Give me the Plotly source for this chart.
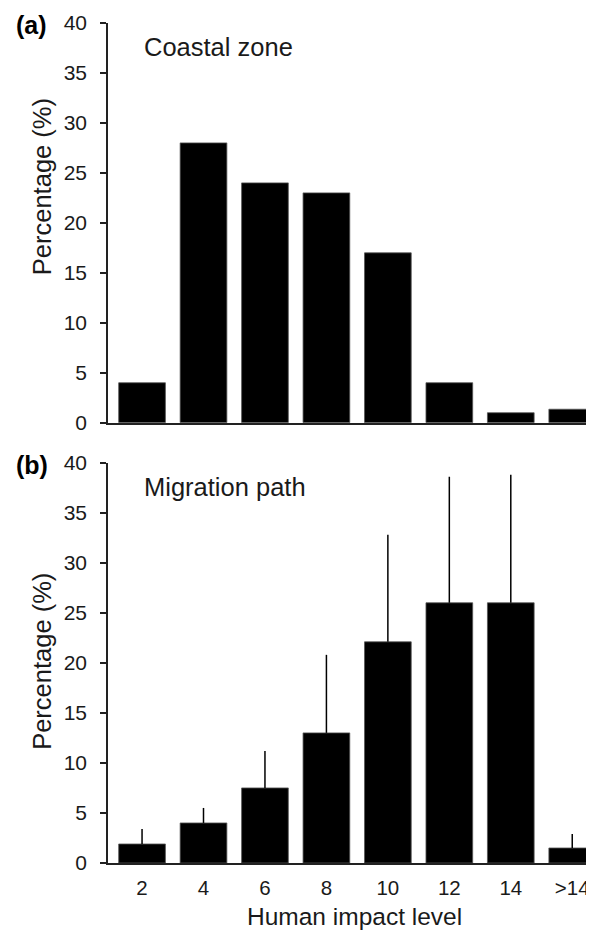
import plotly.graph_objects as go

categories = ["2", "4", "6", "8", "10", "12", "14", ">14"]
coastal_values = [4.0, 28.0, 24.0, 23.0, 17.0, 4.0, 1.0, 1.35]
migration_values = [1.9, 4.0, 7.5, 13.0, 22.1, 26.0, 26.0, 1.5]
migration_upper = [3.4, 5.5, 11.2, 20.8, 32.8, 38.6, 38.8, 2.9]

y_ticks = [0, 5, 10, 15, 20, 25, 30, 35, 40]

FONT = "Arial, Liberation Sans, sans-serif"
TXT = "#1a1a1a"

err_plus = [u - v for u, v in zip(migration_upper, migration_values)]

# page offset of the figure (default body margin)
OFF = 8
W, Hfig = 586, 926
ML, MR, MT, MB = 100, 0, 14.7, 70.7
PW = W - ML - MR
PH = Hfig - MT - MB

def px_to_paper(xpx, ypx):
    return (xpx - OFF - ML) / PW, 1 - (ypx - OFF - MT) / PH

fig = go.Figure()
fig.add_trace(go.Bar(
    x=categories, y=coastal_values, xaxis="x", yaxis="y",
    marker=dict(color="black", line=dict(color="#555", width=0.8)),
    showlegend=False,
))
fig.add_trace(go.Bar(
    x=categories, y=migration_values, xaxis="x2", yaxis="y2",
    marker=dict(color="black", line=dict(color="#555", width=0.8)),
    error_y=dict(type="data", symmetric=False, array=err_plus,
                 arrayminus=[0] * len(err_plus), width=0,
                 thickness=1.5, color="black"),
    showlegend=False,
))

xr = [-0.554, 7.354]
common_y = dict(range=[0, 40], tickvals=y_ticks, ticks="outside", ticklen=6,
                tickwidth=1.5, tickcolor="#222", showline=True, linewidth=1.5,
                linecolor="#222", showgrid=False, zeroline=False,
                tickfont=dict(family=FONT, size=21, color=TXT),
                ticklabelstandoff=9)
common_x = dict(range=xr, type="category", showline=True, linewidth=1.5,
                linecolor="#222", showgrid=False, zeroline=False)

top_dom = [1 - 400 / PH, 1]
bot_dom = [0, 400.6 / PH]

fig.update_layout(
    width=W, height=Hfig,
    margin=dict(l=ML, r=MR, t=MT, b=MB),
    plot_bgcolor="white", paper_bgcolor="white",
    bargap=0.24,
    xaxis=dict(**common_x, domain=[0, 1], anchor="y", showticklabels=False, ticks=""),
    yaxis=dict(**common_y, domain=top_dom, anchor="x"),
    xaxis2=dict(**common_x, domain=[0, 1], anchor="y2", showticklabels=True,
                ticks="outside", ticklen=6, tickcolor="rgba(0,0,0,0)",
                tickfont=dict(family=FONT, size=20.5, color=TXT)),
    yaxis2=dict(**common_y, domain=bot_dom, anchor="x2"),
)

for txt, ypx in [("<b>(a)</b>", 25), ("<b>(b)</b>", 465)]:
    px, py = px_to_paper(14, ypx)
    fig.add_annotation(text=txt, x=px, y=py, xref="paper", yref="paper",
                       xanchor="left", yanchor="middle", showarrow=False,
                       font=dict(family=FONT, size=25, color="black"))

for txt, ypx in [("Coastal zone", 47), ("Migration path", 487)]:
    px, py = px_to_paper(142, ypx)
    fig.add_annotation(text=txt, x=px, y=py, xref="paper", yref="paper",
                       xanchor="left", yanchor="middle", showarrow=False,
                       font=dict(family=FONT, size=25.5, color=TXT))

for ypx in [187, 662]:
    px, py = px_to_paper(42, ypx)
    fig.add_annotation(text="Percentage (%)", x=px, y=py, xref="paper", yref="paper",
                       xanchor="center", yanchor="middle", showarrow=False, textangle=-90,
                       font=dict(family=FONT, size=25.5, color=TXT))

px, py = px_to_paper(354, 917)
fig.add_annotation(text="Human impact level", x=px, y=py, xref="paper", yref="paper",
                   xanchor="center", yanchor="middle", showarrow=False,
                   font=dict(family=FONT, size=24.5, color=TXT))

fig.write_html("out.html")
